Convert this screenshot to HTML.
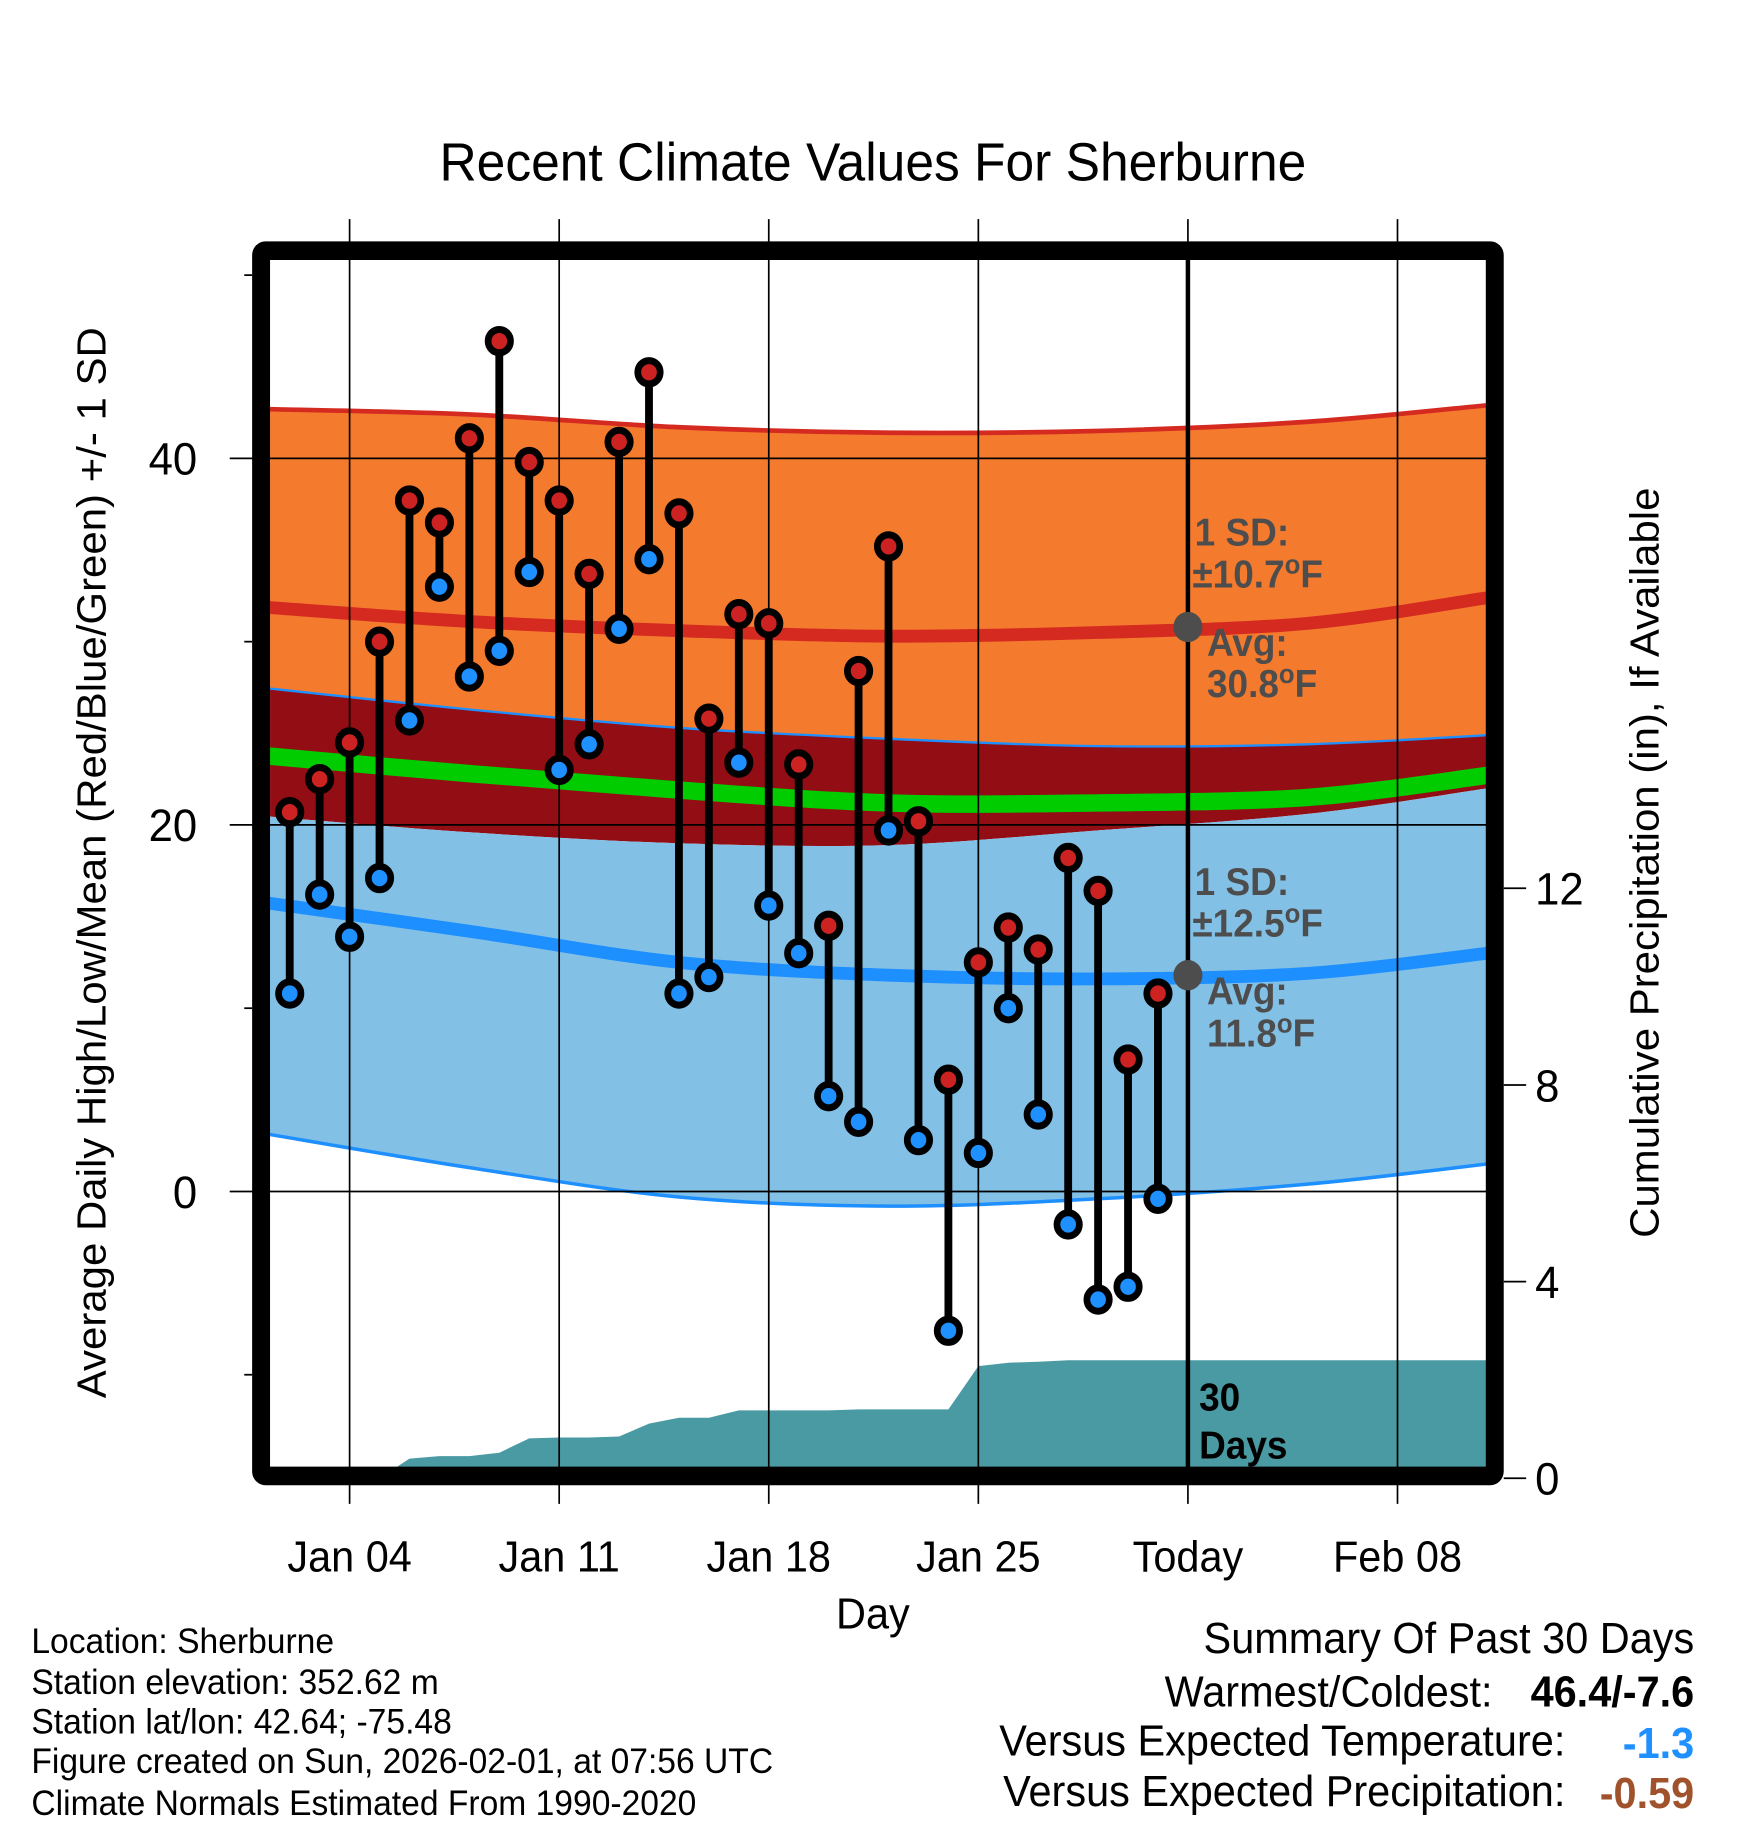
<!DOCTYPE html>
<html><head><meta charset="utf-8"><style>
html,body{margin:0;padding:0;background:#fff}
svg{display:block}
text{font-family:"Liberation Sans",sans-serif}
</style></head><body>
<svg id="chart" width="1748" height="1828" viewBox="0 0 1560 1568" preserveAspectRatio="none" xmlns="http://www.w3.org/2000/svg">
<defs><clipPath id="plotclip"><rect x="241" y="222" width="1086" height="1037"/></clipPath></defs>
<g id="bands" clip-path="url(#plotclip)"></g>
<g id="precip" clip-path="url(#plotclip)"></g>
<g id="grid"></g>
<g id="marks"></g>
<g id="axes"></g>
<text x="779" y="155" font-size="46" text-anchor="middle">Recent Climate Values For Sherburne</text>
<text transform="translate(94,740) rotate(-90)" font-size="36" text-anchor="middle">Average Daily High/Low/Mean (Red/Blue/Green) +/- 1 SD</text>
<text transform="translate(1480,740) rotate(-90)" font-size="36" text-anchor="middle">Cumulative Precipitation (in), If Available</text>
<text x="779" y="1397" font-size="37" text-anchor="middle">Day</text>
<g font-size="30">
<text x="28" y="1418">Location: Sherburne</text>
<text x="28" y="1453">Station elevation: 352.62 m</text>
<text x="28" y="1487">Station lat/lon: 42.64; -75.48</text>
<text x="28" y="1521">Figure created on Sun, 2026-02-01, at 07:56 UTC</text>
<text x="28" y="1557">Climate Normals Estimated From 1990-2020</text>
</g>
<g font-size="37">
<text x="1512" y="1418" text-anchor="end">Summary Of Past 30 Days</text>
<text x="1332" y="1464" text-anchor="end">Warmest/Coldest:</text>
<text x="1512" y="1464" text-anchor="end" font-weight="bold">46.4/-7.6</text>
<text x="1397" y="1506" text-anchor="end">Versus Expected Temperature:</text>
<text x="1512" y="1508" text-anchor="end" font-weight="bold" fill="#1e90ff">-1.3</text>
<text x="1397" y="1549" text-anchor="end">Versus Expected Precipitation:</text>
<text x="1512" y="1551" text-anchor="end" font-weight="bold" fill="#a0522d">-0.59</text>
</g>
</svg>
<script>
// data
const dayLabels = [2,3,4,5,6,7,8,9,10,11,12,13,14,15,16,17,18,19,20,21,22,23,24,25,26,27,28,29,30,31];
const highs = [20.7,22.5,24.5,30.0,37.7,36.5,41.1,46.4,39.8,37.7,33.7,40.9,44.7,37.0,25.8,31.5,31.0,23.3,14.5,28.4,35.2,20.2,6.1,12.5,14.4,13.2,18.2,16.4,7.2,10.8];
const lows = [10.8,16.2,13.9,17.1,25.7,33.0,28.1,29.5,33.8,23.0,24.4,30.7,34.5,10.8,11.7,23.4,15.6,13.0,5.2,3.8,19.7,2.8,-7.6,2.1,10.0,4.2,-1.8,-5.9,-5.2,-0.4];
const precipCum = [0,0,0,0,0.40,0.45,0.45,0.52,0.81,0.83,0.83,0.85,1.11,1.23,1.23,1.38,1.38,1.38,1.38,1.40,1.40,1.40,1.40,2.28,2.35,2.37,2.40,2.40,2.40,2.40];
const normDays = [1,8,15,22,29,36,42];
const hiPlusSD = [42.7,42.4,41.7,41.4,41.5,42.0,42.9];
const hiMean = [31.9,31.1,30.6,30.3,30.5,31.0,32.4];
const hiMinusSD = [27.5,26.3,25.3,24.7,24.3,24.4,24.9];
const avgMean = [23.8,22.8,21.9,21.2,21.2,21.5,22.7];
const loPlusSD = [20.5,19.6,19.0,18.9,19.7,20.6,22.0];
const loMean = [15.8,14.2,12.5,11.8,11.6,11.9,13.0];
const loMinusSD = [3.2,1.3,-0.3,-0.8,-0.4,0.4,1.5];
const xTickDays = [4,11,18,25,32,39];
const xTickLabels = ["Jan 04","Jan 11","Jan 18","Jan 25","Today","Feb 08"];
const yTicks = [0,20,40];
const yMinor = [-10,10,30,50];
const y2Ticks = [0,4,8,12];
const todayDay = 32;
const todayHiAvg = 30.8, todayLoAvg = 11.8;

const NS="http://www.w3.org/2000/svg";
const X = d => 312 + (d-4)*26.72;
const Y = v => 1022 - v*15.72;
const Y2 = p => 1268 - p*42.17;
function mk(parent, tag, attrs){const e=document.createElementNS(NS,tag);for(const k in attrs)e.setAttribute(k,attrs[k]);parent.appendChild(e);return e;}

function pts(arr){return normDays.map((d,i)=>[X(d),Y(arr[i])]);}
function smooth(p){
  let s=`M${p[0][0]},${p[0][1]}`;
  for(let i=0;i<p.length-1;i++){
    const p0=p[Math.max(i-1,0)],p1=p[i],p2=p[i+1],p3=p[Math.min(i+2,p.length-1)];
    s+=` C${p1[0]+(p2[0]-p0[0])/6},${p1[1]+(p2[1]-p0[1])/6} ${p2[0]-(p3[0]-p1[0])/6},${p2[1]-(p3[1]-p1[1])/6} ${p2[0]},${p2[1]}`;
  }
  return s;
}
function smoothRev(p){return smooth(p.slice().reverse()).replace(/^M/,'L');}
const bands=document.getElementById('bands');
function band(top,bot,fill,name){
  const e=mk(bands,'path',{d:smooth(pts(top))+' '+smoothRev(pts(bot))+' Z',fill:fill});
  
  
}
band(hiPlusSD,hiMinusSD,'#f47a2e','high-sd-band');
band(hiMinusSD,loPlusSD,'#930d14','overlap-band');
band(loPlusSD,loMinusSD,'#82c0e6','low-sd-band');
function line(arr,color,w,name){
  const e=mk(bands,'path',{d:smooth(pts(arr)),fill:'none',stroke:color,'stroke-width':w});
  
  
}
line(hiPlusSD,'#d42a20',4,'high-plus-sd-line');
line(hiMean,'#d42a20',11,'high-mean-line');
line(hiMinusSD,'#1e8fff',2,'high-minus-sd-line');
line(avgMean,'#00cc00',15,'mean-line');
line(loMinusSD,'#1e8fff',3,'low-minus-sd-line');
line(loMean,'#1e8fff',11,'low-mean-line');

// precip
const pg=document.getElementById('precip');
let pd=`M${X(dayLabels[0])},${Y2(0)}`;
dayLabels.forEach((d,i)=>{pd+=` L${X(d)},${Y2(precipCum[i])}`;});
pd+=` L1327,${Y2(precipCum[precipCum.length-1])} L1327,1300 L${X(dayLabels[0])},1300 Z`;
const pa=mk(pg,'path',{d:pd,fill:'#4a9aa3'});



// grid
const grid=document.getElementById('grid');
yTicks.forEach(v=>{
  const l=mk(grid,'line',{x1:205,x2:1327,y1:Y(v),y2:Y(v),stroke:'#000','stroke-width':1.5});
  
  
});
yMinor.forEach(v=>{
  const l=mk(grid,'line',{x1:218,x2:225,y1:Y(v),y2:Y(v),stroke:'#000','stroke-width':1.5});
  
  
});
xTickDays.forEach((d,i)=>{
  const l=mk(grid,'line',{x1:X(d),x2:X(d),y1:188,y2:1290,stroke:'#000','stroke-width':1.5});
  
  
});

// marks
const marks=document.getElementById('marks');
dayLabels.forEach((d,i)=>{
  const g=mk(marks,'g',{});
  
  
  mk(g,'line',{x1:X(d),x2:X(d),y1:Y(highs[i]),y2:Y(lows[i]),stroke:'#000','stroke-width':7});
  const h=mk(g,'circle',{cx:X(d),cy:Y(highs[i]),r:10,fill:'#cc2222',stroke:'#000','stroke-width':6});
  
  
  const lo=mk(g,'circle',{cx:X(d),cy:Y(lows[i]),r:10,fill:'#1e90ff',stroke:'#000','stroke-width':6});
  
  
});

// today line & annotations
const ax=document.getElementById('axes');
const tl=mk(ax,'line',{x1:X(todayDay),x2:X(todayDay),y1:222,y2:1262,stroke:'#000','stroke-width':4});


[todayHiAvg,todayLoAvg].forEach(v=>{
  const c=mk(ax,'circle',{cx:X(todayDay),cy:Y(v),r:13,fill:'#4d4d4d'});
  
  
});
function ann(x,y,html,name,fill){
  const t=mk(ax,'text',{x:x,y:y,'font-size':33,'font-weight':'bold',fill:fill||'#4d4d4d'});
  t.innerHTML=html;
  
  
}
const tx=X(todayDay);
ann(tx+6,Y(todayHiAvg)-70,'1 SD:','high-sd-label');
ann(tx+4,Y(todayHiAvg)-34,'±10.7<tspan font-size="23" dy="-12">o</tspan><tspan dy="12">F</tspan>','high-sd-value');
ann(tx+17,Y(todayHiAvg)+25,'Avg:','high-avg-label');
ann(tx+17,Y(todayHiAvg)+60,'30.8<tspan font-size="23" dy="-12">o</tspan><tspan dy="12">F</tspan>','high-avg-value');
ann(tx+6,Y(todayLoAvg)-69,'1 SD:','low-sd-label');
ann(tx+4,Y(todayLoAvg)-33,'±12.5<tspan font-size="23" dy="-12">o</tspan><tspan dy="12">F</tspan>','low-sd-value');
ann(tx+17,Y(todayLoAvg)+25,'Avg:','low-avg-label');
ann(tx+17,Y(todayLoAvg)+61,'11.8<tspan font-size="23" dy="-12">o</tspan><tspan dy="12">F</tspan>','low-avg-value');
ann(tx+10,1210,'30','days-label-30','#000');
ann(tx+10,1251,'Days','days-label','#000');

// frame
const fr=mk(ax,'rect',{x:233,y:215,width:1101,height:1051,fill:'none',stroke:'#000','stroke-width':16,rx:4});



// tick labels
yTicks.forEach(v=>{
  const t=mk(ax,'text',{x:176,y:Y(v)+14,'font-size':39,'text-anchor':'end'});
  t.textContent=v;
  
  
});
y2Ticks.forEach(p=>{
  const l=mk(ax,'line',{x1:1342,x2:1362,y1:Y2(p),y2:Y2(p),stroke:'#000','stroke-width':1.5});
  
  
  const t=mk(ax,'text',{x:1370,y:Y2(p)+14,'font-size':39});
  t.textContent=p;
  
  
});
xTickDays.forEach((d,i)=>{
  const t=mk(ax,'text',{x:X(d),y:1348,'font-size':37,'text-anchor':'middle'});
  t.textContent=xTickLabels[i];
  
  
});
</script>
</body></html>
